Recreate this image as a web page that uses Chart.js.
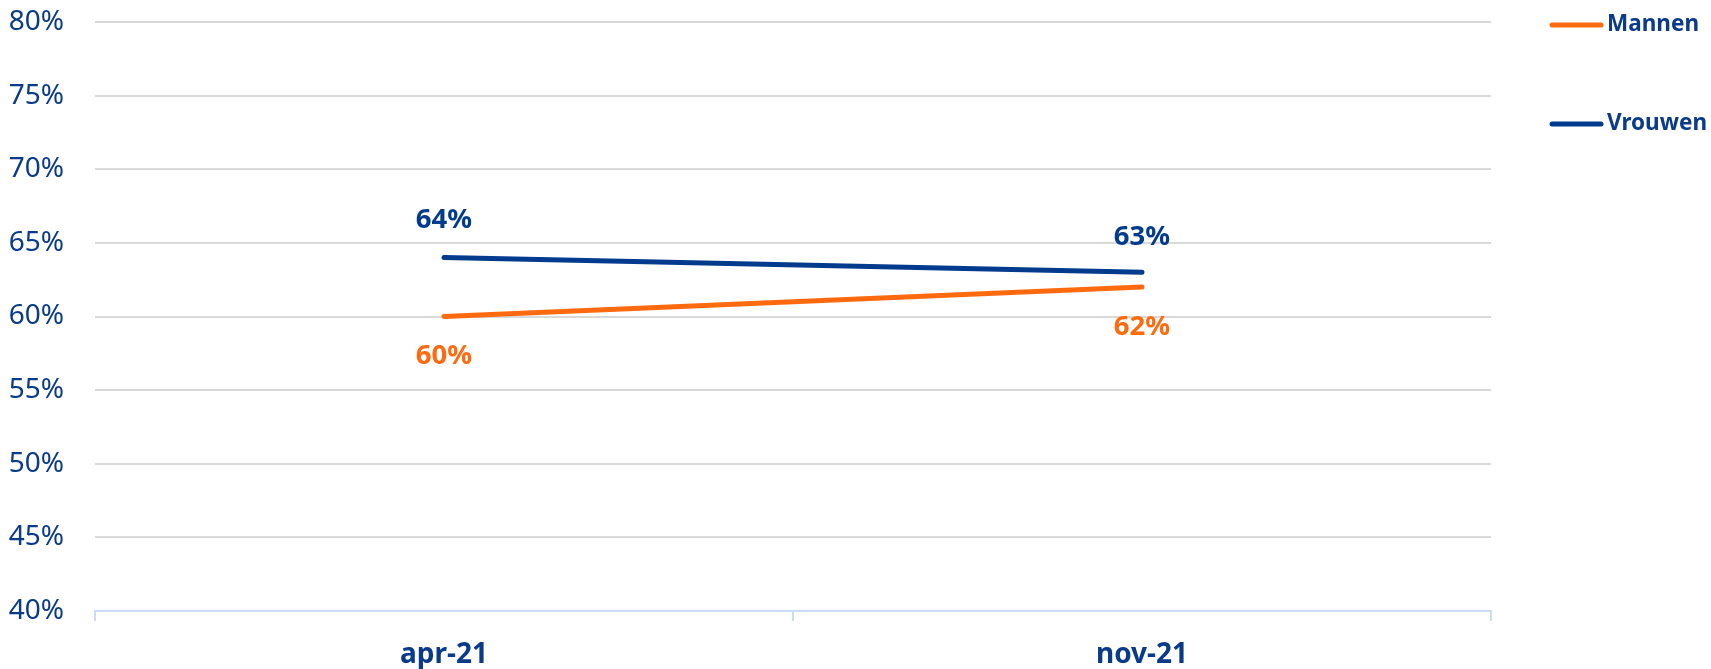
<!DOCTYPE html>
<html>
<head>
<meta charset="utf-8">
<script src="https://cdn.jsdelivr.net/npm/chart.js@4.4.1/dist/chart.umd.min.js"></script>
<style>
  html, body { margin: 0; padding: 0; background: #ffffff; }
  #wrap { width: 1711px; height: 669px; position: relative; }
</style>
</head>
<body>
<div id="wrap"><canvas id="chart" width="1711" height="669"></canvas></div>
<script>
// gegevens
const categories = ['apr-21', 'nov-21'];
const mannen = [60, 62];
const vrouwen = [64, 63];
const yTicks = [40, 45, 50, 55, 60, 65, 70, 75, 80];

const ORANGE = '#FF6A0F';
const BLUE = '#023B8E';
const TEXT = '#0A3A8A';
const FONT = "'Noto Sans', 'Liberation Sans', sans-serif";

// waardelabels bij de punten
const valueLabels = {
    id: 'valueLabels',
    afterDatasetsDraw(chart) {
        const ctx = chart.ctx;
        ctx.save();
        ctx.font = 'bold 27.5px ' + FONT;
        ctx.textAlign = 'center';
        ctx.textBaseline = 'middle';
        chart.data.datasets.forEach((ds, i) => {
            const meta = chart.getDatasetMeta(i);
            meta.data.forEach((pt, j) => {
                ctx.fillStyle = ds.borderColor;
                ctx.fillText(ds.data[j] + '%', pt.x, pt.y + ds.labelOffset[j]);
            });
        });
        ctx.restore();
    }
};

// legenda rechtsboven
const sideLegend = {
    id: 'sideLegend',
    afterDraw(chart) {
        const ctx = chart.ctx;
        ctx.save();
        ctx.font = 'bold 22.5px ' + FONT;
        ctx.textAlign = 'left';
        ctx.textBaseline = 'middle';
        chart.data.datasets.forEach((ds, i) => {
            const y = 25 + i * 99;
            ctx.strokeStyle = ds.borderColor;
            ctx.lineWidth = 5;
            ctx.lineCap = 'round';
            ctx.beginPath();
            ctx.moveTo(1552, y);
            ctx.lineTo(1601, y);
            ctx.stroke();
            ctx.fillStyle = TEXT;
            ctx.fillText(ds.label, 1607, y);
        });
        ctx.restore();
    }
};

new Chart(document.getElementById('chart'), {
    type: 'line',
    data: {
        labels: categories,
        datasets: [{
            label: 'Mannen',
            data: mannen,
            borderColor: ORANGE,
            backgroundColor: ORANGE,
            borderWidth: 5,
            borderCapStyle: 'round',
            pointRadius: 0,
            tension: 0,
            labelOffset: [40, 40]
        }, {
            label: 'Vrouwen',
            data: vrouwen,
            borderColor: BLUE,
            backgroundColor: BLUE,
            borderWidth: 5,
            borderCapStyle: 'round',
            pointRadius: 0,
            tension: 0,
            labelOffset: [-37, -35]
        }]
    },
    options: {
        responsive: false,
        animation: false,
        layout: { padding: { top: 22, right: 220, bottom: 0, left: 0 } },
        plugins: {
            legend: { display: false },
            tooltip: { enabled: false }
        },
        scales: {
            x: {
                offset: true,
                afterFit: s => { s.height = 58; s.paddingLeft = 0; s.paddingRight = 0; },
                grid: {
                    offset: true,
                    drawOnChartArea: false,
                    drawTicks: true,
                    tickLength: 10,
                    color: '#C9DCF8',
                    lineWidth: 2
                },
                border: { display: true, color: '#C9DCF8', width: 2 },
                ticks: {
                    color: TEXT,
                    padding: 17,
                    font: { family: FONT, size: 28, weight: 'bold' }
                }
            },
            y: {
                min: 40,
                max: 80,
                afterFit: s => { s.width = 95; s.paddingTop = 0; s.paddingBottom = 0; },
                afterBuildTicks: s => { s.ticks = yTicks.map(v => ({ value: v })); },
                grid: {
                    drawTicks: false,
                    lineWidth: 2,
                    color: c => c.tick && c.tick.value === 40 ? 'rgba(0,0,0,0)' : '#D9D9D9'
                },
                border: { display: false },
                ticks: {
                    color: TEXT,
                    padding: 31,
                    font: { family: FONT, size: 28 },
                    callback: v => v + '%'
                }
            }
        }
    },
    plugins: [valueLabels, sideLegend]
});
</script>
</body>
</html>
